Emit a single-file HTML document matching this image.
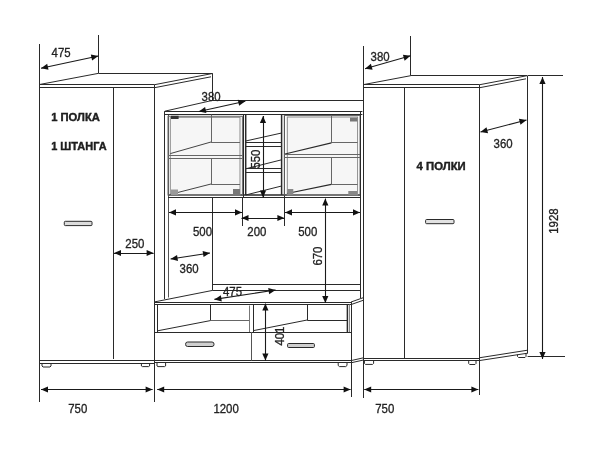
<!DOCTYPE html>
<html><head><meta charset="utf-8"><title>Схема</title>
<style>
html,body{margin:0;padding:0;background:#fff;}
body{width:600px;height:460px;overflow:hidden;}
svg{display:block;}
svg{filter:grayscale(1) blur(0.35px);}
svg text{font-family:"Liberation Sans","DejaVu Sans",sans-serif;fill:#222;}
</style></head><body>
<svg width="600" height="460" viewBox="0 0 600 460">
<rect x="0" y="0" width="600" height="460" fill="#ffffff"/>
<line x1="39.5" y1="44" x2="39.5" y2="402" stroke="#2a2a2a" stroke-width="1"/>
<line x1="154.5" y1="85" x2="154.5" y2="402" stroke="#2a2a2a" stroke-width="1"/>
<line x1="39.5" y1="84.5" x2="154" y2="84.5" stroke="#2a2a2a" stroke-width="1"/>
<line x1="39.5" y1="87.5" x2="154" y2="87.5" stroke="#2a2a2a" stroke-width="1"/>
<line x1="39.5" y1="360.5" x2="154" y2="360.5" stroke="#2a2a2a" stroke-width="1"/>
<line x1="39.5" y1="363.5" x2="154" y2="363.5" stroke="#2a2a2a" stroke-width="1"/>
<line x1="113.5" y1="87.7" x2="113.5" y2="359" stroke="#2a2a2a" stroke-width="1"/>
<line x1="98.5" y1="35" x2="98.5" y2="73.3" stroke="#2a2a2a" stroke-width="1"/>
<line x1="39.5" y1="84.5" x2="98.7" y2="73.3" stroke="#2a2a2a" stroke-width="1"/>
<line x1="98.7" y1="73.5" x2="212.4" y2="73.5" stroke="#2a2a2a" stroke-width="1"/>
<line x1="154" y1="84.8" x2="212.4" y2="73.5" stroke="#2a2a2a" stroke-width="1"/>
<line x1="154" y1="87.8" x2="211" y2="76.8" stroke="#2a2a2a" stroke-width="1"/>
<line x1="212.5" y1="73.3" x2="212.5" y2="100.4" stroke="#2a2a2a" stroke-width="1"/>
<rect x="64.3" y="221.3" width="27.7" height="4.3" fill="#dcdcdc" stroke="#2a2a2a" stroke-width="1" rx="1"/>
<polyline points="42,363 42,366 43,367 50,367 51,366 51,363" fill="none" stroke="#2a2a2a" stroke-width="1"/>
<polyline points="141.4,363 141.4,366 142.4,366.6 148.6,366.6 149.6,366 149.6,363" fill="none" stroke="#2a2a2a" stroke-width="1"/>
<rect x="170.3" y="117" width="69.7" height="78" fill="#f6f6f6" stroke="none" stroke-width="1" rx="0"/>
<rect x="287.3" y="117" width="70.3" height="78" fill="#f6f6f6" stroke="none" stroke-width="1" rx="0"/>
<line x1="164.5" y1="111.2" x2="164.5" y2="299" stroke="#2a2a2a" stroke-width="1"/>
<line x1="168.5" y1="114.5" x2="168.5" y2="297.5" stroke="#555" stroke-width="1"/>
<line x1="164.8" y1="111.2" x2="212.4" y2="100.4" stroke="#2a2a2a" stroke-width="1"/>
<line x1="212.4" y1="100.5" x2="363.4" y2="100.5" stroke="#2a2a2a" stroke-width="1"/>
<line x1="164.8" y1="111.5" x2="362.4" y2="111.5" stroke="#2a2a2a" stroke-width="1"/>
<line x1="164.8" y1="114.5" x2="362.4" y2="114.5" stroke="#2a2a2a" stroke-width="1"/>
<line x1="168" y1="197.5" x2="361" y2="197.5" stroke="#2a2a2a" stroke-width="1"/>
<line x1="168" y1="195" x2="361" y2="195" stroke="#2a2a2a" stroke-width="1.6"/>
<rect x="168" y="116.3" width="74.4" height="78.7" fill="none" stroke="#666" stroke-width="1" rx="0"/>
<rect x="170.3" y="117.3" width="69.7" height="77.7" fill="none" stroke="#8a8a8a" stroke-width="1" rx="0"/>
<line x1="211.5" y1="114.6" x2="211.5" y2="142" stroke="#666" stroke-width="1"/>
<line x1="211" y1="142.5" x2="240" y2="142.5" stroke="#666" stroke-width="1"/>
<line x1="211" y1="142" x2="170.3" y2="153.6" stroke="#444" stroke-width="1"/>
<line x1="168" y1="155.5" x2="242.4" y2="155.5" stroke="#666" stroke-width="1"/>
<line x1="168" y1="158.5" x2="242.4" y2="158.5" stroke="#666" stroke-width="1"/>
<line x1="211.5" y1="158.4" x2="211.5" y2="184" stroke="#666" stroke-width="1"/>
<line x1="211" y1="184.5" x2="240" y2="184.5" stroke="#666" stroke-width="1"/>
<line x1="211" y1="184" x2="170.3" y2="194.4" stroke="#444" stroke-width="1"/>
<rect x="171" y="115.8" width="7.6" height="3.2" fill="#333" stroke="none" stroke-width="1" rx="0"/>
<rect x="171" y="189.5" width="7" height="5.5" fill="#999" stroke="none" stroke-width="1" rx="0"/>
<rect x="233" y="189" width="7" height="6" fill="#777" stroke="none" stroke-width="1" rx="0"/>
<line x1="243.5" y1="114.6" x2="243.5" y2="197.6" stroke="#2a2a2a" stroke-width="1"/>
<line x1="245.7" y1="114.6" x2="245.7" y2="195" stroke="#2a2a2a" stroke-width="1.5"/>
<line x1="281.6" y1="114.6" x2="281.6" y2="195" stroke="#2a2a2a" stroke-width="1.5"/>
<line x1="284.5" y1="114.6" x2="284.5" y2="197.6" stroke="#2a2a2a" stroke-width="1"/>
<line x1="245.7" y1="141" x2="281.6" y2="133" stroke="#2a2a2a" stroke-width="1"/>
<line x1="245.7" y1="142.5" x2="281.6" y2="142.5" stroke="#2a2a2a" stroke-width="1"/>
<line x1="245.7" y1="146.5" x2="281.6" y2="146.5" stroke="#2a2a2a" stroke-width="1"/>
<line x1="245.7" y1="168.8" x2="281.6" y2="159.8" stroke="#2a2a2a" stroke-width="1"/>
<line x1="245.7" y1="168.5" x2="281.6" y2="168.5" stroke="#2a2a2a" stroke-width="1"/>
<line x1="245.7" y1="172.5" x2="281.6" y2="172.5" stroke="#2a2a2a" stroke-width="1"/>
<line x1="245.7" y1="195" x2="281.6" y2="186" stroke="#2a2a2a" stroke-width="1"/>
<rect x="284.3" y="115.5" width="75.7" height="79.5" fill="none" stroke="#666" stroke-width="1" rx="0"/>
<rect x="287.3" y="117" width="70.3" height="78" fill="none" stroke="#8a8a8a" stroke-width="1" rx="0"/>
<line x1="331.5" y1="115.5" x2="331.5" y2="142.8" stroke="#666" stroke-width="1"/>
<line x1="331.4" y1="142.5" x2="357.6" y2="142.5" stroke="#666" stroke-width="1"/>
<line x1="331.4" y1="142.8" x2="285" y2="154" stroke="#2a2a2a" stroke-width="1.2"/>
<line x1="284.3" y1="154.5" x2="360" y2="154.5" stroke="#666" stroke-width="1"/>
<line x1="284.3" y1="157.5" x2="360" y2="157.5" stroke="#666" stroke-width="1"/>
<line x1="331.5" y1="157" x2="331.5" y2="184.4" stroke="#666" stroke-width="1"/>
<line x1="331.4" y1="184.5" x2="357.6" y2="184.5" stroke="#666" stroke-width="1"/>
<line x1="331.4" y1="184.4" x2="287" y2="193.5" stroke="#2a2a2a" stroke-width="1.2"/>
<rect x="350" y="117.6" width="7.4" height="3.9" fill="#777" stroke="none" stroke-width="1" rx="0"/>
<rect x="287.3" y="189" width="6" height="6" fill="#888" stroke="none" stroke-width="1" rx="0"/>
<rect x="348.3" y="191" width="8.8" height="4" fill="#888" stroke="none" stroke-width="1" rx="0"/>
<line x1="360.5" y1="111.4" x2="360.5" y2="298" stroke="#2a2a2a" stroke-width="1"/>
<line x1="363.5" y1="46" x2="363.5" y2="398" stroke="#2a2a2a" stroke-width="1"/>
<line x1="212.5" y1="197.6" x2="212.5" y2="290.5" stroke="#2a2a2a" stroke-width="1"/>
<line x1="212.6" y1="284.5" x2="360" y2="284.5" stroke="#2a2a2a" stroke-width="1"/>
<line x1="212.6" y1="290.5" x2="360" y2="290.5" stroke="#2a2a2a" stroke-width="1"/>
<line x1="242.5" y1="197.6" x2="242.5" y2="226" stroke="#2a2a2a" stroke-width="1"/>
<line x1="284.5" y1="197.6" x2="284.5" y2="226" stroke="#2a2a2a" stroke-width="1"/>
<line x1="154" y1="302.5" x2="351" y2="302.5" stroke="#2a2a2a" stroke-width="1"/>
<line x1="154" y1="304.5" x2="351" y2="304.5" stroke="#2a2a2a" stroke-width="1"/>
<line x1="154" y1="302" x2="212.6" y2="290.4" stroke="#2a2a2a" stroke-width="1"/>
<line x1="351" y1="302" x2="363.5" y2="297.6" stroke="#2a2a2a" stroke-width="1"/>
<line x1="351" y1="304.6" x2="363.5" y2="300.2" stroke="#2a2a2a" stroke-width="1"/>
<line x1="351.5" y1="302" x2="351.5" y2="397" stroke="#2a2a2a" stroke-width="1"/>
<line x1="154" y1="332.5" x2="351" y2="332.5" stroke="#2a2a2a" stroke-width="1"/>
<line x1="154" y1="360.5" x2="351" y2="360.5" stroke="#2a2a2a" stroke-width="1"/>
<line x1="154" y1="362.5" x2="351" y2="362.5" stroke="#2a2a2a" stroke-width="1"/>
<line x1="351" y1="360.6" x2="363.5" y2="357.8" stroke="#2a2a2a" stroke-width="1"/>
<line x1="351" y1="362.8" x2="363.5" y2="360" stroke="#2a2a2a" stroke-width="1"/>
<line x1="157.5" y1="304.6" x2="157.5" y2="332" stroke="#2a2a2a" stroke-width="1"/>
<line x1="210.5" y1="304.6" x2="210.5" y2="320.6" stroke="#2a2a2a" stroke-width="1"/>
<line x1="210.4" y1="320.5" x2="249" y2="320.5" stroke="#666" stroke-width="1"/>
<line x1="210.4" y1="320.6" x2="157.6" y2="330.8" stroke="#2a2a2a" stroke-width="1"/>
<line x1="249.5" y1="305.5" x2="249.5" y2="332" stroke="#777" stroke-width="1"/>
<line x1="251.5" y1="332" x2="251.5" y2="360.6" stroke="#555" stroke-width="1"/>
<line x1="253.5" y1="304.6" x2="253.5" y2="332" stroke="#2a2a2a" stroke-width="1"/>
<line x1="307.5" y1="304.6" x2="307.5" y2="320" stroke="#2a2a2a" stroke-width="1"/>
<line x1="307.2" y1="320.5" x2="347.4" y2="320.5" stroke="#2a2a2a" stroke-width="1"/>
<line x1="307.2" y1="320" x2="253.5" y2="330.6" stroke="#2a2a2a" stroke-width="1"/>
<line x1="347.4" y1="304.6" x2="347.4" y2="332" stroke="#2a2a2a" stroke-width="1.5"/>
<line x1="349.5" y1="304.6" x2="349.5" y2="332" stroke="#888" stroke-width="1"/>
<rect x="185.6" y="342" width="28.4" height="4.5" fill="#cfcfcf" stroke="#2a2a2a" stroke-width="1" rx="2"/>
<rect x="287.6" y="343.5" width="26.8" height="4" fill="#cfcfcf" stroke="#2a2a2a" stroke-width="1" rx="1"/>
<polyline points="157,363 157,366 158,366.6 164.6,366.6 165.6,366 165.6,363" fill="none" stroke="#2a2a2a" stroke-width="1"/>
<polyline points="338.2,363 338.2,365.5 339.5,366.6 345.7,366.6 347,365.5 347,363" fill="none" stroke="#2a2a2a" stroke-width="1"/>
<line x1="363.5" y1="84.5" x2="479.2" y2="84.5" stroke="#2a2a2a" stroke-width="1"/>
<line x1="363.5" y1="87.5" x2="479.2" y2="87.5" stroke="#2a2a2a" stroke-width="1"/>
<line x1="363.5" y1="358.5" x2="479.2" y2="358.5" stroke="#2a2a2a" stroke-width="1"/>
<line x1="363.5" y1="360.5" x2="479.2" y2="360.5" stroke="#2a2a2a" stroke-width="1"/>
<line x1="479.5" y1="84.6" x2="479.5" y2="395" stroke="#2a2a2a" stroke-width="1"/>
<line x1="404.5" y1="87.6" x2="404.5" y2="358.2" stroke="#2a2a2a" stroke-width="1"/>
<line x1="410.5" y1="36" x2="410.5" y2="75.7" stroke="#2a2a2a" stroke-width="1"/>
<line x1="363.5" y1="84.6" x2="410.7" y2="75.7" stroke="#2a2a2a" stroke-width="1"/>
<line x1="410.7" y1="75.5" x2="527" y2="75.5" stroke="#2a2a2a" stroke-width="1"/>
<line x1="479.2" y1="84.8" x2="527" y2="75.7" stroke="#2a2a2a" stroke-width="1"/>
<line x1="479.2" y1="87.8" x2="526" y2="78.8" stroke="#2a2a2a" stroke-width="1"/>
<line x1="527.5" y1="75.7" x2="527.5" y2="353.5" stroke="#2a2a2a" stroke-width="1"/>
<line x1="479.2" y1="357.8" x2="527.6" y2="350.2" stroke="#2a2a2a" stroke-width="1"/>
<line x1="479.2" y1="360.6" x2="527.6" y2="353.2" stroke="#2a2a2a" stroke-width="1"/>
<rect x="425.6" y="219.5" width="28.4" height="4.2" fill="#e2e2e2" stroke="#2a2a2a" stroke-width="1" rx="1"/>
<polyline points="364.4,360.6 364.4,363.4 365.4,364.4 372.6,364.4 373.6,363.4 373.6,360.6" fill="none" stroke="#2a2a2a" stroke-width="1"/>
<polyline points="468.7,360.6 468.7,363.5 469.7,364.5 475,364.5 476,363.5 476,360.6" fill="none" stroke="#2a2a2a" stroke-width="1"/>
<polyline points="517.5,354.6 517.5,356.5 518.5,357.5 525,357.5 526,356.5 526,353.4" fill="none" stroke="#2a2a2a" stroke-width="1"/>
<line x1="527.6" y1="75.5" x2="563" y2="75.5" stroke="#2a2a2a" stroke-width="1"/>
<line x1="527.6" y1="356.5" x2="565" y2="356.5" stroke="#2a2a2a" stroke-width="1"/>
<line x1="542.5" y1="77" x2="542.5" y2="359" stroke="#1a1a1a" stroke-width="1.1"/>
<polygon points="542.50,359.00 539.40,352.00 545.60,352.00" fill="#111"/>
<polygon points="542.50,77.00 545.60,84.00 539.40,84.00" fill="#111"/>
<line x1="41" y1="68.2" x2="98.3" y2="56" stroke="#1a1a1a" stroke-width="1.1"/>
<polygon points="98.30,56.00 92.10,60.49 90.81,54.43" fill="#111"/>
<polygon points="41.00,68.20 47.20,63.71 48.49,69.77" fill="#111"/>
<line x1="198.9" y1="111.5" x2="245.3" y2="101.3" stroke="#1a1a1a" stroke-width="1.1"/>
<polygon points="245.30,101.30 239.13,105.83 237.80,99.78" fill="#111"/>
<polygon points="198.90,111.50 205.07,106.97 206.40,113.02" fill="#111"/>
<line x1="365" y1="68.7" x2="410.5" y2="55.8" stroke="#1a1a1a" stroke-width="1.1"/>
<polygon points="410.50,55.80 404.61,60.69 402.92,54.73" fill="#111"/>
<polygon points="365.00,68.70 370.89,63.81 372.58,69.77" fill="#111"/>
<line x1="480.5" y1="132" x2="526.5" y2="120" stroke="#1a1a1a" stroke-width="1.1"/>
<polygon points="526.50,120.00 520.51,124.77 518.94,118.77" fill="#111"/>
<polygon points="480.50,132.00 486.49,127.23 488.06,133.23" fill="#111"/>
<line x1="114" y1="253.5" x2="153.6" y2="253.5" stroke="#1a1a1a" stroke-width="1.1"/>
<polygon points="153.60,253.00 146.60,256.10 146.60,249.90" fill="#111"/>
<polygon points="114.00,253.00 121.00,249.90 121.00,256.10" fill="#111"/>
<line x1="169" y1="212.5" x2="242" y2="212.5" stroke="#1a1a1a" stroke-width="1.1"/>
<polygon points="242.00,212.40 235.00,215.50 235.00,209.30" fill="#111"/>
<polygon points="169.00,212.40 176.00,209.30 176.00,215.50" fill="#111"/>
<line x1="285" y1="212.5" x2="360" y2="212.5" stroke="#1a1a1a" stroke-width="1.1"/>
<polygon points="360.00,212.40 353.00,215.50 353.00,209.30" fill="#111"/>
<polygon points="285.00,212.40 292.00,209.30 292.00,215.50" fill="#111"/>
<line x1="241.5" y1="218.5" x2="284.4" y2="218.5" stroke="#1a1a1a" stroke-width="1.1"/>
<polygon points="284.40,218.00 277.40,221.10 277.40,214.90" fill="#111"/>
<polygon points="241.50,218.00 248.50,214.90 248.50,221.10" fill="#111"/>
<line x1="170.6" y1="259" x2="210" y2="253" stroke="#1a1a1a" stroke-width="1.1"/>
<polygon points="210.00,253.00 203.55,257.12 202.61,250.99" fill="#111"/>
<polygon points="170.60,259.00 177.05,254.88 177.99,261.01" fill="#111"/>
<line x1="214.4" y1="299.4" x2="275.6" y2="290" stroke="#1a1a1a" stroke-width="1.1"/>
<polygon points="275.60,290.00 269.15,294.13 268.21,288.00" fill="#111"/>
<polygon points="214.40,299.40 220.85,295.27 221.79,301.40" fill="#111"/>
<line x1="263.5" y1="116" x2="263.5" y2="197.6" stroke="#1a1a1a" stroke-width="1.1"/>
<polygon points="263.00,197.60 259.90,190.60 266.10,190.60" fill="#111"/>
<polygon points="263.00,116.00 266.10,123.00 259.90,123.00" fill="#111"/>
<line x1="325.5" y1="198.6" x2="325.5" y2="303" stroke="#1a1a1a" stroke-width="1.1"/>
<polygon points="325.30,303.00 322.20,296.00 328.40,296.00" fill="#111"/>
<polygon points="325.30,198.60 328.40,205.60 322.20,205.60" fill="#111"/>
<line x1="265.5" y1="303.6" x2="265.5" y2="360.6" stroke="#1a1a1a" stroke-width="1.1"/>
<polygon points="265.40,360.60 262.30,353.60 268.50,353.60" fill="#111"/>
<polygon points="265.40,303.60 268.50,310.60 262.30,310.60" fill="#111"/>
<line x1="41" y1="389.5" x2="152.6" y2="389.5" stroke="#1a1a1a" stroke-width="1.1"/>
<polygon points="152.60,389.50 145.60,392.60 145.60,386.40" fill="#111"/>
<polygon points="41.00,389.50 48.00,386.40 48.00,392.60" fill="#111"/>
<line x1="157.2" y1="389.5" x2="350.6" y2="389.5" stroke="#1a1a1a" stroke-width="1.1"/>
<polygon points="350.60,389.50 343.60,392.60 343.60,386.40" fill="#111"/>
<polygon points="157.20,389.50 164.20,386.40 164.20,392.60" fill="#111"/>
<line x1="364.2" y1="389.5" x2="478.4" y2="389.5" stroke="#1a1a1a" stroke-width="1.1"/>
<polygon points="478.40,389.50 471.40,392.60 471.40,386.40" fill="#111"/>
<polygon points="364.20,389.50 371.20,386.40 371.20,392.60" fill="#111"/>
<text x="0" y="0" font-size="11.9" text-anchor="start" transform="translate(51.6 56.5) scale(0.96 1)" stroke="#222" fill="#222" stroke-width="0.3">475</text>
<text x="0" y="0" font-size="11.9" text-anchor="start" transform="translate(201.6 100.9) scale(0.96 1)" stroke="#222" fill="#222" stroke-width="0.3">380</text>
<text x="0" y="0" font-size="11.9" text-anchor="start" transform="translate(370.6 61.0) scale(0.96 1)" stroke="#222" fill="#222" stroke-width="0.3">380</text>
<text x="0" y="0" font-size="11.9" text-anchor="start" transform="translate(493.6 147.7) scale(0.96 1)" stroke="#222" fill="#222" stroke-width="0.3">360</text>
<text x="0" y="0" font-size="11.9" text-anchor="start" transform="translate(125.3 248.1) scale(0.96 1)" stroke="#222" fill="#222" stroke-width="0.3">250</text>
<text x="0" y="0" font-size="11.9" text-anchor="start" transform="translate(193.0 235.5) scale(0.96 1)" stroke="#222" fill="#222" stroke-width="0.3">500</text>
<text x="0" y="0" font-size="11.9" text-anchor="start" transform="translate(247.3 235.5) scale(0.96 1)" stroke="#222" fill="#222" stroke-width="0.3">200</text>
<text x="0" y="0" font-size="11.9" text-anchor="start" transform="translate(298.2 235.5) scale(0.96 1)" stroke="#222" fill="#222" stroke-width="0.3">500</text>
<text x="0" y="0" font-size="11.9" text-anchor="start" transform="translate(179.6 272.5) scale(0.96 1)" stroke="#222" fill="#222" stroke-width="0.3">360</text>
<text x="0" y="0" font-size="11.9" text-anchor="start" transform="translate(223.0 295.7) scale(0.96 1)" stroke="#222" fill="#222" stroke-width="0.3">475</text>
<text x="0" y="0" font-size="11.9" text-anchor="start" transform="translate(68.2 412.9) scale(0.96 1)" stroke="#222" fill="#222" stroke-width="0.3">750</text>
<text x="0" y="0" font-size="11.9" text-anchor="start" transform="translate(375.2 412.9) scale(0.96 1)" stroke="#222" fill="#222" stroke-width="0.3">750</text>
<text x="0" y="0" font-size="11.9" text-anchor="start" transform="translate(213.4 412.9) scale(0.96 1)" stroke="#222" fill="#222" stroke-width="0.3">1200</text>
<text x="0" y="0" font-size="10.4" font-weight="bold" text-anchor="start" transform="translate(51.2 120.7) scale(1.08 1)" stroke="#111" fill="#111" stroke-width="0.35">1 ПОЛКА</text>
<text x="0" y="0" font-size="10.4" font-weight="bold" text-anchor="start" transform="translate(51.2 149.6) scale(1.055 1)" stroke="#111" fill="#111" stroke-width="0.35">1 ШТАНГА</text>
<text x="0" y="0" font-size="10.4" font-weight="bold" text-anchor="start" transform="translate(416.6 169.6) scale(1.09 1)" stroke="#111" fill="#111" stroke-width="0.35">4 ПОЛКИ</text>
<text x="0" y="0" font-size="11.9" text-anchor="start" transform="translate(259.6 168.6) rotate(-90) scale(0.96 1)" stroke="#222" fill="#222" stroke-width="0.3">550</text>
<text x="0" y="0" font-size="11.9" text-anchor="start" transform="translate(322.4 265.6) rotate(-90) scale(0.96 1)" stroke="#222" fill="#222" stroke-width="0.3">670</text>
<text x="0" y="0" font-size="11.9" text-anchor="start" transform="translate(558.4 233.8) rotate(-90) scale(0.96 1)" stroke="#222" fill="#222" stroke-width="0.3">1928</text>
<text x="0" y="0" font-size="11.9" text-anchor="start" transform="translate(283.8 345.6) rotate(-90) scale(0.96 1)" stroke="#222" fill="#222" stroke-width="0.3">401</text>
</svg>
</body></html>
